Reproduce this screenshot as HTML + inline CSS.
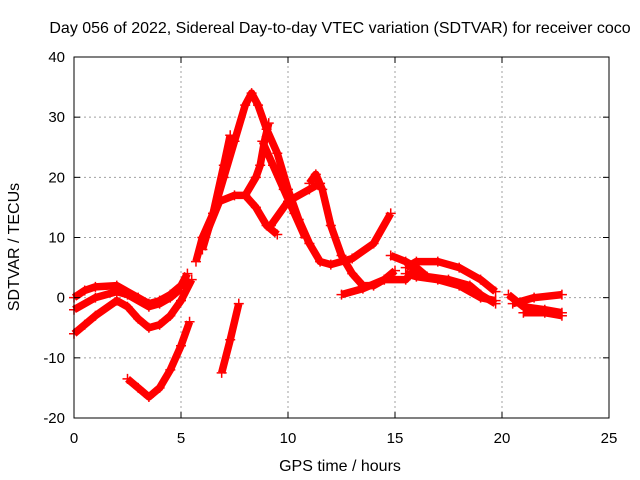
<!DOCTYPE html>
<html><head><meta charset="utf-8"><style>
body{margin:0;background:#fff;}
svg{display:block;font-family:"Liberation Sans",sans-serif;}
</style></head><body>
<svg id="chart" width="640" height="480" viewBox="0 0 640 480">
<text x="340" y="33" font-size="16" text-anchor="middle">Day 056 of 2022, Sidereal Day-to-day VTEC variation (SDTVAR) for receiver coco</text>
<g id="grid"></g>
<g id="marks"></g>
<rect x="74" y="57" width="535" height="361" fill="none" stroke="#000" stroke-width="1"/>
<g id="ticks"></g>
<text x="340" y="471" font-size="16" text-anchor="middle">GPS time / hours</text>
<text x="19" y="247" font-size="16" text-anchor="middle" transform="rotate(-90 19 247)">SDTVAR / TECUs</text>
</svg>
<script>
const xTicks=[0,5,10,15,20,25];
const yTicks=[-20,-10,0,10,20,30,40];
const trackA=[[0,0],[0.5,1.2],[1,1.8],[2,2],[3,0],[3.5,-1],[4,-0.5],[4.5,0.5],[5,2],[5.3,4]];
const trackB=[[0,-2],[1,0],[2,1],[2.5,0.5],[3.5,-1.5],[4,-1],[4.5,0],[5,1.5]];
const trackC=[[0,-6],[0.5,-4.5],[1,-3],[2,-0.5],[2.5,-1.5],[3,-3.5],[3.5,-5],[4,-4.5],[4.5,-3],[5,-0.5],[5.5,3]];
const trackD=[[2.5,-13.5],[3,-15],[3.5,-16.5],[4,-15],[4.5,-12],[5,-8],[5.4,-4]];
const trackE=[[6.9,-12.5],[7.3,-7],[7.7,-1]];
const trackF=[[5.7,6],[6,10],[6.5,14],[7,20],[7.5,26],[8,32],[8.3,34],[8.6,32],[9,28],[9.5,24],[10,18],[10.5,13],[11,9],[11.5,6],[12,5.5],[13,6.5],[14,9],[14.8,14]];
const trackG=[[6,8],[6.5,14],[7,22],[7.3,27]];
const trackH=[[6,9],[6.8,16],[7.5,17],[8,17],[8.5,15],[9,12],[9.5,10.5]];
const trackI=[[8,17],[8.5,20],[8.7,22],[8.9,26],[9.1,29]];
const trackJ=[[8.8,26],[9.3,22],[9.8,18],[10.3,14],[10.8,10]];
const trackK=[[9.2,12],[10,16],[11,18],[11.5,19]];
const trackL=[[11,19],[11.3,20.5],[11.6,18],[12,12],[12.5,7],[13,4],[13.5,2],[14,2],[14.5,3],[15,4.5]];
const trackM=[[12.5,0.5],[13.5,1.5],[14.5,3],[15.5,3],[16,5]];
const trackN=[[14.8,7],[15.5,6],[16,5],[16.5,3.5],[17.5,3],[18.5,2],[19,0.5],[19.7,-1]];
const trackO=[[15.5,5],[16,6],[17,6],[18,5],[19,3],[19.7,1]];
const trackP=[[15.5,4],[16,3.5],[17,3],[18,2],[19,0],[19.7,-0.5]];
const trackQ=[[20.3,0.5],[21,-1.5],[22,-2],[22.8,-2.5]];
const trackR=[[20.5,-1],[21.5,0],[22.8,0.5]];
const trackS=[[21,-2.5],[22,-2.5],[22.8,-3]];
const tracks=[trackA,trackB,trackC,trackD,trackE,trackF,trackG,trackH,trackI,trackJ,trackK,trackL,trackM,trackN,trackO,trackP,trackQ,trackR,trackS];
const NS="http://www.w3.org/2000/svg";
const X0=74,X1=609,Y0=418,Y1=57;
function sx(h){return X0+(h-0)/(25-0)*(X1-X0);}
function sy(v){return Y0-(v+20)/(60)*(Y0-Y1);}
const grid=document.getElementById('grid'),ticks=document.getElementById('ticks'),marks=document.getElementById('marks');
function mk(tag,attrs,parent){const e=document.createElementNS(NS,tag);for(const k in attrs)e.setAttribute(k,attrs[k]);parent.appendChild(e);return e;}
xTicks.forEach(t=>{
  const x=sx(t);
  if(t>0&&t<25){const g=mk('line',{x1:x,x2:x,y1:Y0,y2:Y1,stroke:'#a0a0a0','stroke-dasharray':'2,3'},grid);
  
  }
  mk('line',{x1:x,x2:x,y1:Y0,y2:Y0-6,stroke:'#000'},ticks);
  mk('line',{x1:x,x2:x,y1:Y1,y2:Y1+6,stroke:'#000'},ticks);
  const l=mk('text',{x:x,y:443,'font-size':15,'text-anchor':'middle'},ticks);l.textContent=t;
  
  
});
yTicks.forEach(t=>{
  const y=sy(t);
  if(t>-20&&t<40){const g=mk('line',{x1:X0,x2:X1,y1:y,y2:y,stroke:'#a0a0a0','stroke-dasharray':'2,3'},grid);
  
  }
  mk('line',{x1:X0,x2:X0+6,y1:y,y2:y,stroke:'#000'},ticks);
  mk('line',{x1:X1,x2:X1-6,y1:y,y2:y,stroke:'#000'},ticks);
  const l=mk('text',{x:65,y:y+5,'font-size':15,'text-anchor':'end'},ticks);l.textContent=t;
  
  
});
tracks.forEach((tr,i)=>{
  const pts=tr.map(p=>sx(p[0])+','+sy(p[1])).join(' ');
  const pl=mk('polyline',{points:pts,fill:'none',stroke:'#ff0000','stroke-width':7.5,'stroke-linejoin':'round','stroke-linecap':'butt'},marks);
  
  
  tr.forEach(p=>{
    const x=sx(p[0]),y=sy(p[1]);
    const m=mk('path',{d:`M${x-5},${y}H${x+5}M${x},${y-5}V${y+5}`,stroke:'#ff0000','stroke-width':1.5},marks);
    
    
  });
});
</script>
</body></html>
